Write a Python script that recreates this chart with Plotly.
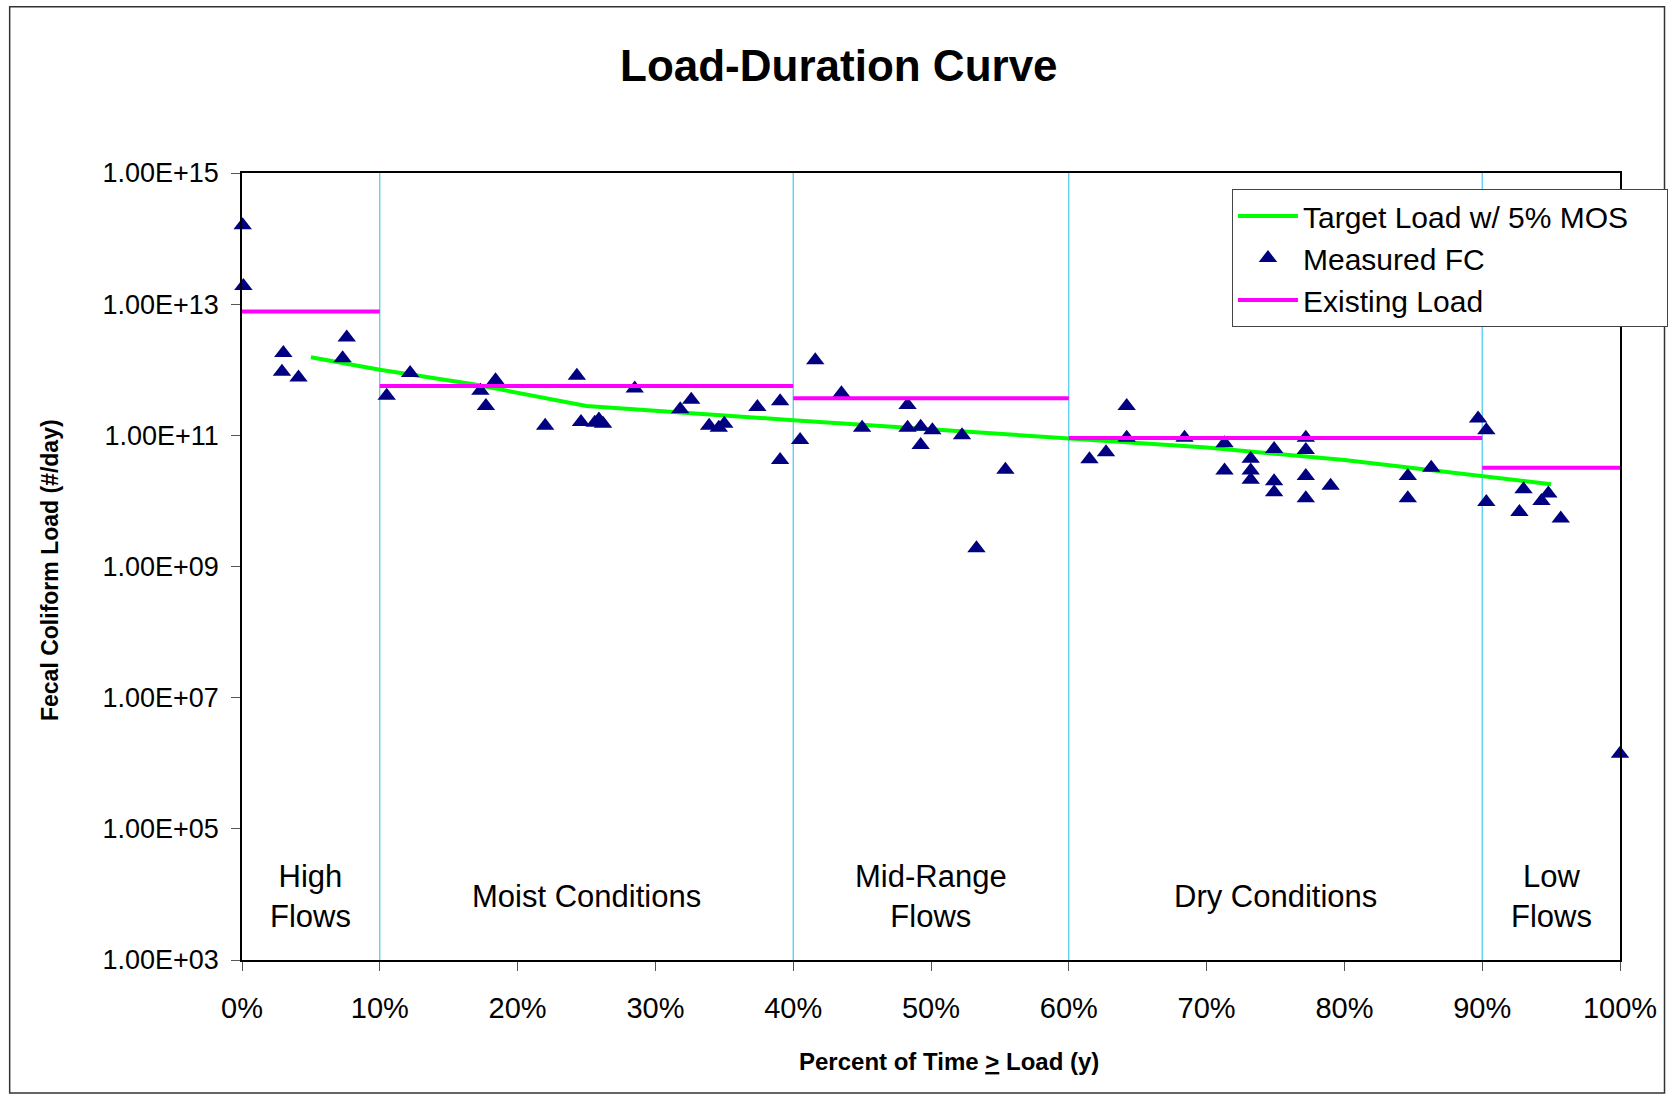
import plotly.graph_objects as go

# ---------------- data ----------------
fc_pct = [0.05, 0.1, 3.0, 2.9, 4.1, 7.6, 7.3, 10.5, 12.2, 17.3, 17.7, 18.4, 22.0, 24.3,
          24.6, 25.6, 25.9, 26.2, 28.5, 31.8, 32.6, 33.9, 34.6, 35.0, 37.4, 39.05, 39.05,
          40.5, 41.6, 43.5, 45.0, 48.3, 48.3, 49.25, 49.25, 50.1, 52.25, 53.3, 55.4,
          61.5, 62.7, 64.2, 64.2, 68.4, 71.3, 71.3, 73.2, 73.2, 73.2, 74.9, 74.9, 74.9,
          77.2, 77.2, 77.2, 77.2, 79.0, 84.6, 84.6, 86.3, 89.7, 90.3, 90.3, 93.0, 92.7,
          94.3, 94.8, 95.7, 100.0]
fc_load = [1.6e14, 1.9e13, 1.8e12, 9.3e11, 7.6e11, 3.1e12, 1.5e12, 4.0e11, 8.9e11, 4.8e11,
           2.8e11, 6.9e11, 1.4e11, 8.1e11, 1.6e11, 1.55e11, 1.75e11, 1.5e11, 5.2e11, 2.5e11,
           3.5e11, 1.4e11, 1.3e11, 1.5e11, 2.7e11, 3.3e11, 4.2e10, 8.5e10, 1.4e12, 4.4e11,
           1.3e11, 2.9e11, 1.3e11, 1.35e11, 7.1e10, 1.2e11, 1.0e11, 1.9e9, 3.0e10,
           4.3e10, 5.5e10, 2.8e11, 9.2e10, 9.2e10, 7.6e10, 2.9e10, 4.4e10, 2.9e10, 2.1e10,
           6.2e10, 2.0e10, 1.35e10, 9.2e10, 6.0e10, 2.4e10, 1.1e10, 1.7e10, 2.4e10, 1.1e10,
           3.2e10, 1.8e11, 1.2e11, 9.6e9, 1.5e10, 6.8e9, 1.0e10, 1.3e10, 5.4e9, 1.4e6]

target_pct = [5, 10, 16.8, 25, 40, 60, 70, 80, 90, 95]
target_load = [1.55e12, 1.0e12, 6.0e11, 2.8e11, 1.7e11, 8.9e10, 6.5e10, 4.2e10, 2.4e10, 1.8e10]

regime_edges = [0, 10, 40, 60, 90, 100]
existing_load = [7.7e12, 5.66e11, 3.68e11, 9.1e10, 3.2e10]
regime_names = ["High<br>Flows", "Moist Conditions", "Mid-Range<br>Flows",
                "Dry Conditions", "Low<br>Flows"]

y_tick_vals = [1e3, 1e5, 1e7, 1e9, 1e11, 1e13, 1e15]
y_tick_text = ["1.00E+03", "1.00E+05", "1.00E+07", "1.00E+09", "1.00E+11",
               "1.00E+13", "1.00E+15"]
x_tick_vals = list(range(0, 101, 10))
x_tick_text = ["0%", "10%", "20%", "30%", "40%", "50%", "60%", "70%", "80%", "90%", "100%"]

# ---------------- figure ----------------
FONT = "Liberation Sans, Arial, Helvetica, sans-serif"
fig = go.Figure()

fig.add_trace(go.Scatter(x=target_pct, y=target_load, mode="lines",
                         name="Target Load w/ 5% MOS\u00a0\u00a0\u00a0\u00a0",
                         line=dict(color="#00FF00", width=4)))

fig.add_trace(go.Scatter(x=fc_pct, y=fc_load, mode="markers", name="Measured FC",
                         marker=dict(symbol="triangle-up", size=16, color="#000080",
                                     line=dict(width=0)),
                         cliponaxis=False))

ex_x, ex_y = [], []
for i, v in enumerate(existing_load):
    ex_x += [regime_edges[i], regime_edges[i + 1], None]
    ex_y += [v, v, None]
fig.add_trace(go.Scatter(x=ex_x, y=ex_y, mode="lines", name="Existing Load",
                         connectgaps=False,
                         line=dict(color="#FF00FF", width=4)))

shapes = []
for e in regime_edges[1:-1]:
    shapes.append(dict(type="line", xref="x", yref="paper", x0=e, x1=e, y0=0, y1=1,
                       line=dict(color="#22BBEE", width=1), layer="below"))
# outer chart border
shapes.append(dict(type="rect", xref="paper", yref="paper",
                   x0=-0.1686, x1=1.0323, y0=-0.169, y1=1.2113,
                   line=dict(color="#333333", width=1.5)))

annotations = []
for i, name in enumerate(regime_names):
    mid = (regime_edges[i] + regime_edges[i + 1]) / 2
    annotations.append(dict(x=mid, xref="x", y=0.0807, yref="paper", text=name,
                            showarrow=False, xanchor="center", yanchor="middle",
                            font=dict(family=FONT, size=31, color="black")))
annotations.append(dict(x=0.433, xref="paper", y=1.136, yref="paper",
                        text="<b>Load-Duration Curve</b>", showarrow=False,
                        xanchor="center", yanchor="middle",
                        font=dict(family=FONT, size=44, color="black")))
annotations.append(dict(x=0.513, xref="paper", y=-0.1293, yref="paper",
                        text="<b>Percent of Time <u>&gt;</u> Load (y)</b>", showarrow=False,
                        xanchor="center", yanchor="middle",
                        font=dict(family=FONT, size=24, color="black")))
annotations.append(dict(x=-0.1393, xref="paper", y=0.4956, yref="paper",
                        text="<b>Fecal Coliform Load (#/day)</b>", showarrow=False,
                        textangle=-90, xanchor="center", yanchor="middle",
                        font=dict(family=FONT, size=23, color="black")))

fig.update_layout(
    width=1673, height=1096,
    margin=dict(l=242, r=53, t=173, b=136, autoexpand=False),
    paper_bgcolor="white", plot_bgcolor="white",
    font=dict(family=FONT, color="black"),
    showlegend=True,
    legend=dict(x=0.7184, y=0.9797, xanchor="left", yanchor="top",
                bgcolor="white", bordercolor="#444444", borderwidth=1,
                font=dict(family=FONT, size=30, color="black"),
                itemwidth=60),
    shapes=shapes, annotations=annotations,
)

fig.update_xaxes(range=[0, 100], tickvals=x_tick_vals, ticktext=x_tick_text,
                 showgrid=False, zeroline=False, showline=True, mirror=True,
                 linecolor="black", linewidth=1.5, ticks="outside", ticklen=9,
                 tickcolor="#555555", tickfont=dict(family=FONT, size=29),
                 ticklabelstandoff=12, automargin=False)
fig.update_yaxes(type="log", range=[3, 15], tickvals=y_tick_vals, ticktext=y_tick_text,
                 showgrid=False, zeroline=False, showline=True, mirror=True,
                 linecolor="black", linewidth=1.5, ticks="outside", ticklen=9,
                 tickcolor="#555555", tickfont=dict(family=FONT, size=27),
                 ticklabelstandoff=7, automargin=False)

fig.write_html("out.html", config={"displayModeBar": False})

with open("out.html", "r", encoding="utf-8") as f:
    html = f.read()
html = html.replace("<body>", '<body style="margin:0;overflow:hidden">', 1)
with open("out.html", "w", encoding="utf-8") as f:
    f.write(html)
